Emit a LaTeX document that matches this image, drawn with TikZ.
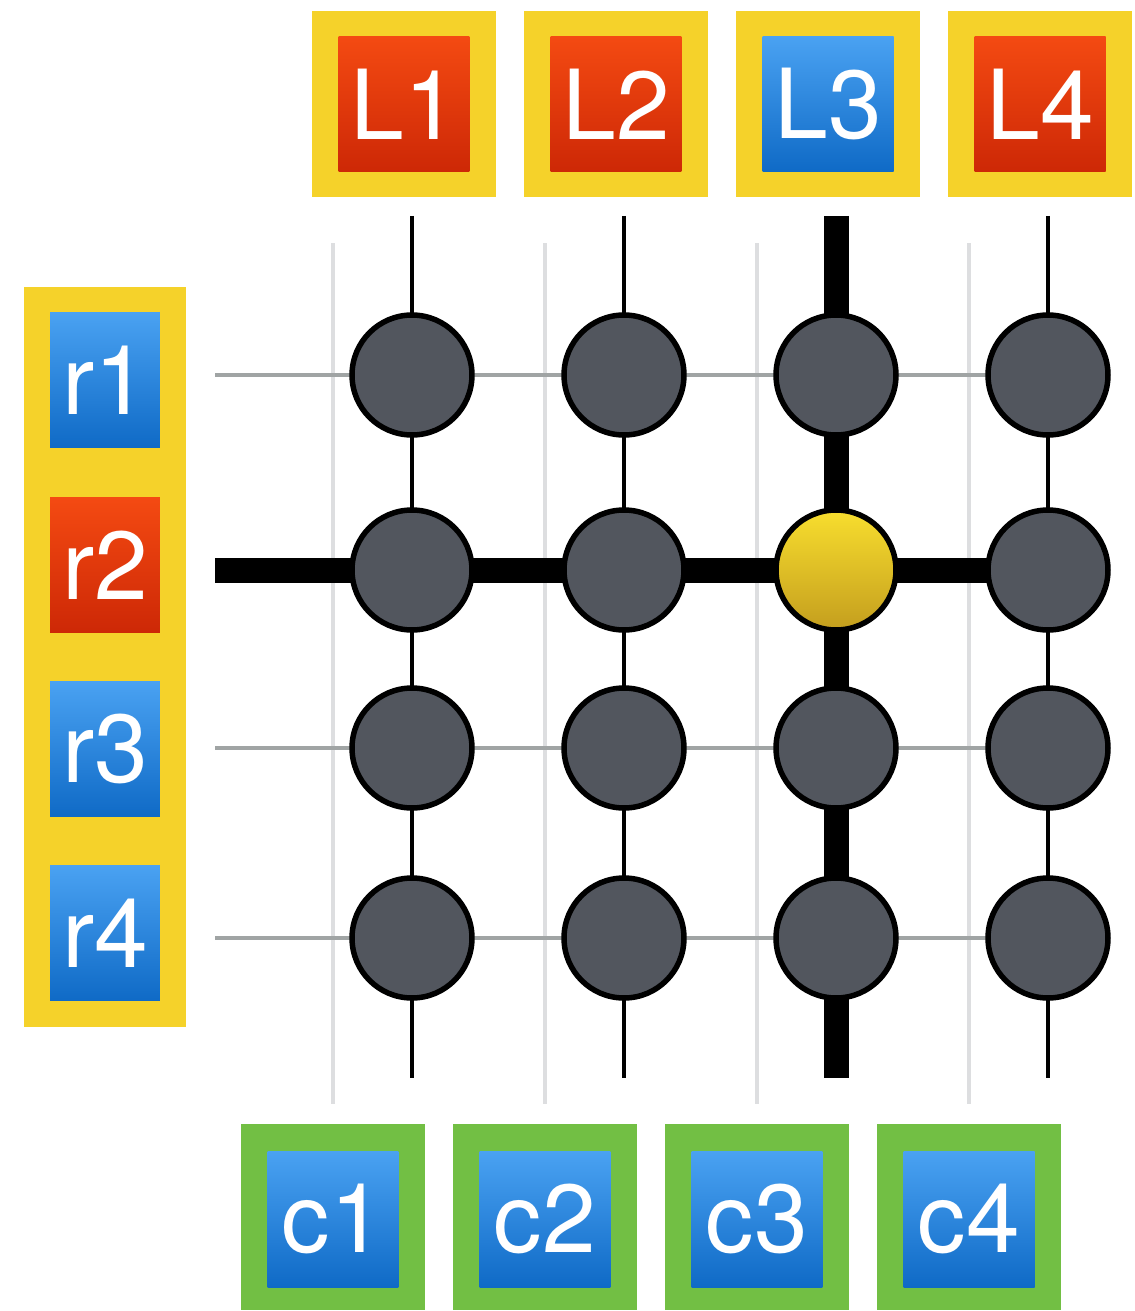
\documentclass[tikz,border=0pt]{standalone}
\usepackage{fontspec}
\setmainfont{TeX Gyre Heros}
\usetikzlibrary{backgrounds}
\definecolor{frameyellow}{HTML}{F5D22A}
\definecolor{framegreen}{HTML}{72BF44}
\definecolor{redtop}{HTML}{F44A12}
\definecolor{redbot}{HTML}{CD2806}
\definecolor{bluetop}{HTML}{4AA2F2}
\definecolor{bluebot}{HTML}{0F6AC6}
\definecolor{cellgray}{HTML}{52565E}
\definecolor{goldtop}{HTML}{F8DE2E}
\definecolor{goldbot}{HTML}{C49E1E}
\definecolor{rowgray}{HTML}{A0A4A4}
\definecolor{guidegray}{HTML}{DDDEE0}
\tikzset{
  frame/.style={minimum width=3.7cm,minimum height=3.74cm,inner sep=0pt},
  tag/.style={minimum width=2.62cm,minimum height=2.72cm,inner sep=0pt,text=white,
    font=\fontsize{55}{60}\selectfont},
  redtag/.style={tag,top color=redtop,bottom color=redbot},
  bluetag/.style={tag,top color=bluetop,bottom color=bluebot},
  cell/.style={circle,draw=black,line width=0.11cm,minimum size=2.4cm,fill=cellgray},
  hotcell/.style={cell,top color=goldtop,bottom color=goldbot},
  wire/.style={line width=0.08cm,black},
  fatwire/.style={line width=0.5cm,black},
  rowline/.style={line width=0.08cm,rowgray},
  guide/.style={line width=0.08cm,guidegray}
}
\begin{document}
\begin{tikzpicture}[x=0.02cm,y=-0.02cm]
  \useasboundingbox (0,0) rectangle (1135,1311);
  % top labels
  \foreach \j/\x/\s in {1/404/redtag,2/616/redtag,3/828/bluetag,4/1040/redtag} {
    \node[frame,fill=frameyellow] (Lf\j) at (\x,104) {};
    \node[\s] (L\j) at (\x,104) {L\j};
  }
  % row labels
  \node[frame,fill=frameyellow,minimum width=3.24cm,minimum height=14.8cm] (rf) at (105,657) {};
  \foreach \i/\y/\s in {1/380/bluetag,2/565/redtag,3/749/bluetag,4/933/bluetag}
    \node[\s,minimum width=2.2cm] (r\i) at (105,\y) {r\i};
  % column labels
  \foreach \j/\x in {1/333,2/545,3/757,4/969} {
    \node[frame,fill=framegreen] (cf\j) at (\x,1217) {};
    \node[bluetag] (c\j) at (\x,1219) {c\j};
  }
  % cells
  \foreach \i/\y in {1/375,2/570,3/748,4/938}
    \foreach \j/\x in {1/412,2/624,3/836,4/1048} {
      \edef\st{\ifnum\i\j=23 hotcell\else cell\fi}
      \node[\st] (n\i\j) at (\x,\y) {};
    }
  \begin{pgfonlayer}{background}
    \foreach \x in {333,545,757,969}
      \draw[guide] (\x,243) -- (\x,1104);
    \foreach \j/\x in {1/412,2/624,3/836,4/1048} {
      \coordinate (t\j) at (\x,216);
      \coordinate (b\j) at (\x,1078);
    }
    \foreach \i/\y in {1/375,2/570,3/748,4/938}
      \coordinate (w\i) at (215,\y);
    \foreach \i in {1,3,4}
      \draw[rowline] (w\i) -- (n\i4.center);
    \draw[fatwire] (w2) -- (n21.center) -- (n22.center) -- (n23.center) -- (n24.center);
    \foreach \j in {1,2,4}
      \draw[wire] (t\j) -- (n1\j.center) -- (n4\j.center) -- (b\j);
    \draw[fatwire] (t3) -- (n13.center) -- (n23.center) -- (n33.center) -- (n43.center) -- (b3);
  \end{pgfonlayer}
\end{tikzpicture}
\end{document}
